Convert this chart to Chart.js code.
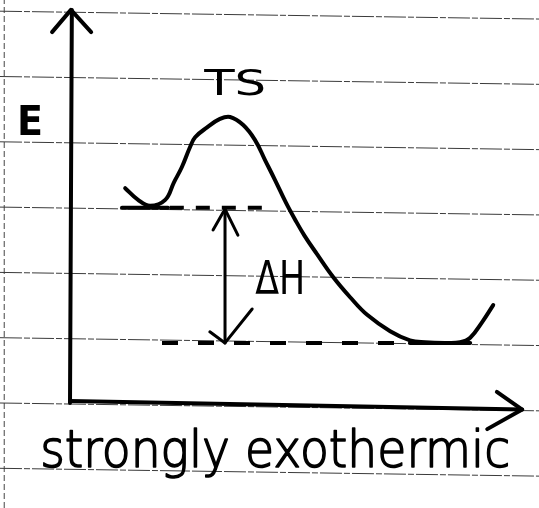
<!DOCTYPE html>
<html><head><meta charset="utf-8">
<script src="https://cdn.jsdelivr.net/npm/chart.js@4/dist/chart.umd.min.js"></script>
<style>html,body{margin:0;padding:0;background:#fff;overflow:hidden}canvas{display:block}</style>
</head><body><canvas id="c" width="539" height="508"></canvas>
<script>
// Energy profile (energy measured in ruled-line units, reaction coordinate 0..10)
const reactionCoord = [1.20,1.48,1.74,2.07,2.26,2.43,2.61,2.72,2.98,3.26,3.48,3.76,4.02,4.24,4.46,4.70,4.90,5.10,5.37,5.72,6.09,6.46,6.96,7.39,7.72,8.15,8.48,8.70,8.96,9.20];
const energy        = [3.29,3.11,3.02,3.11,3.38,3.61,3.92,4.07,4.22,4.35,4.38,4.26,4.03,3.72,3.41,3.06,2.80,2.56,2.28,1.93,1.62,1.35,1.10,0.96,0.93,0.92,0.93,1.00,1.24,1.50];
const reactantLevel = 2.99;
const productLevel  = 0.92;
const reactantSolid = [1.13, 2.13];
const reactantDash  = [2.17, 4.17];
const productDash   = [2.00, 7.28];
const productSolid  = [7.39, 8.70];
const deltaHX = 3.37;
const paperLines = [-1, 0, 1, 2, 3, 4, 5, 6];
const paperSlope = -0.12;
const marginX = -1.43;
// axes (reaction coordinate / energy)
const yAxisX = [0, 0.04], yAxisY = [0, 6.02];
const yArrowX = [-0.39, 0.02, 0.46], yArrowY = [5.68, 6.02, 5.68];
const xAxisX = [0, 9.83], xAxisY = [0.03, -0.10];
const xArrowX = [9.28, 9.83, 9.07], xArrowY = [0.17, -0.10, -0.40];
const dhTopArrowX = [3.11, 3.37, 3.65], dhTopArrowY = [2.65, 2.97, 2.57];
const dhBotArrowX = [3.04, 3.37, 3.96], dhBotArrowY = [1.09, 0.92, 1.44];
const labels = ["TS", "E", "ΔH", "strongly exothermic"];

const XMIN = -70/46, XMAX = (539-70)/46, YMIN = -105/65.3, YMAX = 403/65.3;
const pts = (xs, ys) => xs.map((v,i)=>({x:v, y:ys[i]}));
const ink = '#000';
const seg = (data, extra={}) => Object.assign({data, borderColor:ink, borderWidth:4, pointRadius:0, tension:0, fill:false, borderCapStyle:'round', borderJoinStyle:'round', order:0}, extra);

const datasets = [];
paperLines.forEach(v => datasets.push(seg(pts([XMIN, XMAX],[v, v+paperSlope]), {borderColor:'#3a3a3a', borderWidth:1, borderDash:[22,2,6,2], borderCapStyle:'butt', order:10})));
datasets.push(seg(pts([marginX, marginX],[YMIN, YMAX]), {borderColor:'#444', borderWidth:1, borderDash:[6,3], borderCapStyle:'butt', order:10}));
datasets.push(seg(pts(reactionCoord, energy), {tension:0.4}));
datasets.push(seg(pts(reactantSolid, [reactantLevel, reactantLevel])));
datasets.push(seg(pts(reactantDash, [reactantLevel, reactantLevel]), {borderDash:[14,12], borderCapStyle:'butt'}));
datasets.push(seg(pts(productDash, [productLevel, productLevel]), {borderDash:[16,20], borderCapStyle:'butt'}));
datasets.push(seg(pts(productSolid, [productLevel, productLevel])));
datasets.push(seg(pts([deltaHX, deltaHX], [reactantLevel, productLevel]), {borderWidth:3}));
datasets.push(seg(pts(dhTopArrowX, dhTopArrowY), {borderWidth:3}));
datasets.push(seg(pts(dhBotArrowX, dhBotArrowY), {borderWidth:3}));
datasets.push(seg(pts(yAxisX, yAxisY)));
datasets.push(seg(pts(yArrowX, yArrowY)));
datasets.push(seg(pts(xAxisX, xAxisY)));
datasets.push(seg(pts(xArrowX, xArrowY)));

const labelSpecs = [
  {text:labels[0], x:3.59, y:4.72, font:'normal 36px "DejaVu Sans"', width:62, stroke:0},
  {text:labels[1], x:-0.87, y:4.10, font:'bold 41px "DejaVu Sans"', width:26, stroke:0},
  {text:labels[2], x:4.57, y:1.67, font:'normal 46px "DejaVu Sans"', width:50, stroke:0},
  {text:labels[3], x:4.46, y:-0.98, font:'200 52px "DejaVu Sans"', width:470, stroke:1.6}
];
const labelPlugin = {
  id:'labels',
  afterDatasetsDraw(chart){
    const {ctx, scales:{x, y}} = chart;
    labelSpecs.forEach(l => {
      ctx.save();
      ctx.font = l.font; ctx.fillStyle = ink; ctx.strokeStyle = ink;
      ctx.textAlign = 'center'; ctx.textBaseline = 'alphabetic';
      const w = ctx.measureText(l.text).width;
      ctx.translate(x.getPixelForValue(l.x), y.getPixelForValue(l.y));
      ctx.scale(l.width / w, 1);
      ctx.fillText(l.text, 0, 0);
      if (l.stroke) { ctx.lineWidth = l.stroke; ctx.lineJoin = 'round'; ctx.strokeText(l.text, 0, 0); }
      ctx.restore();
    });
  }
};

new Chart(document.getElementById('c'), {
  type:'line',
  data:{datasets},
  options:{
    responsive:false, animation:false, devicePixelRatio:1,
    layout:{padding:0},
    plugins:{legend:{display:false}, tooltip:{enabled:false}},
    scales:{
      x:{type:'linear', min:XMIN, max:XMAX, display:false},
      y:{type:'linear', min:YMIN, max:YMAX, display:false}
    }
  },
  plugins:[labelPlugin]
});
</script></body></html>
